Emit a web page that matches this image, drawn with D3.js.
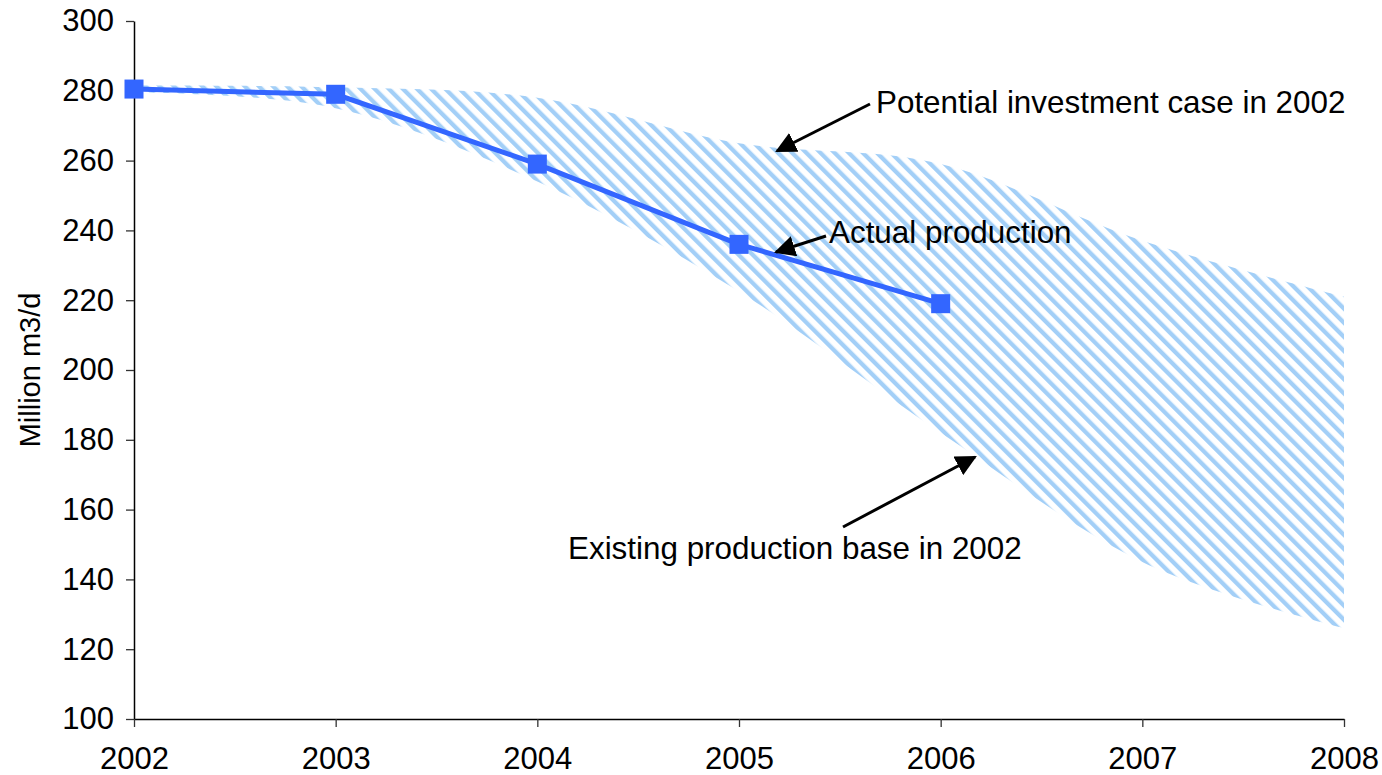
<!DOCTYPE html>
<html>
<head>
<meta charset="utf-8">
<script src="https://cdn.jsdelivr.net/npm/d3@7"></script>
<style>
  html, body { margin: 0; padding: 0; background: #fff; }
  svg { display: block; font-family: "Liberation Sans", Arial, sans-serif; }
</style>
</head>
<body>
<svg id="chart" width="1382" height="775"></svg>
<script>
// ---- data ----
const years = [2002, 2003, 2004, 2005, 2006, 2007, 2008];
const potentialCase = [281.5, 281, 278, 265, 259, 237, 221];
const existingBase = [279.5, 275, 254, 222.5, 182, 145, 126];
const actualYears = [2002, 2003, 2004, 2005, 2006];
const actualProduction = [280.5, 279, 259, 236, 219];
const yTicks = [100, 120, 140, 160, 180, 200, 220, 240, 260, 280, 300];
const yTitle = "Million m3/d";
const annotations = [
  { text: "Potential investment case in 2002", tx: 876, ty: 113, from: [870, 104], to: [777, 151] },
  { text: "Actual production", tx: 829, ty: 243, from: [826, 236], to: [776, 252] },
  { text: "Existing production base in 2002", tx: 568, ty: 559, from: [843, 527], to: [975, 457] }
];

// ---- chart ----
const svg = d3.select("#chart");
const x = d3.scaleLinear().domain([2002, 2008]).range([134, 1344]);
const y = d3.scaleLinear().domain([100, 300]).range([719, 21]);

const defs = svg.append("defs");
defs.append("pattern")
  .attr("id", "hatch")
  .attr("patternUnits", "userSpaceOnUse")
  .attr("width", 10).attr("height", 10)
  .attr("patternTransform", "rotate(-45)")
  .append("rect")
  .attr("x", 0).attr("y", 0).attr("width", 4.3).attr("height", 10)
  .attr("fill", "#a3cff7");

defs.append("marker")
  .attr("id", "arrow")
  .attr("viewBox", "0 0 10 10")
  .attr("refX", 9).attr("refY", 5)
  .attr("markerWidth", 7).attr("markerHeight", 7)
  .attr("markerUnits", "strokeWidth")
  .attr("orient", "auto")
  .append("path")
  .attr("d", "M0,0 L10,5 L0,10 Z")
  .attr("fill", "#000");

const band = years.map((yr, i) => ({ year: yr, hi: potentialCase[i], lo: existingBase[i] }));
const area = d3.area()
  .x(d => x(d.year))
  .y0(d => y(d.lo))
  .y1(d => y(d.hi))
  .curve(d3.curveCardinal.tension(0));

svg.append("path")
  .datum(band)
  .attr("d", area)
  .attr("fill", "url(#hatch)");

// axes
const yAxis = svg.append("g")
  .attr("transform", `translate(${x(2002)},0)`)
  .call(d3.axisLeft(y).tickValues(yTicks).tickSize(8).tickSizeOuter(0).tickPadding(12).tickFormat(d3.format("d")));
const xAxis = svg.append("g")
  .attr("transform", `translate(0,${y(100)})`)
  .call(d3.axisBottom(x).tickValues(years).tickSize(8).tickSizeOuter(0).tickPadding(20).tickFormat(d3.format("d")));

[yAxis, xAxis].forEach(g => {
  g.select(".domain").attr("stroke", "#000").attr("stroke-width", 1.5);
  g.selectAll(".tick line").attr("stroke", "#333").attr("stroke-width", 1.3);
  g.selectAll(".tick text").attr("fill", "#000").style("font-size", "31px").style("font-family", "Liberation Sans, Arial, sans-serif");
});

svg.append("text")
  .attr("transform", `translate(40,${(y(100) + y(300)) / 2}) rotate(-90)`)
  .attr("text-anchor", "middle")
  .style("font-size", "29px")
  .attr("fill", "#000")
  .text(yTitle);

// actual production line
const actual = actualYears.map((yr, i) => ({ year: yr, v: actualProduction[i] }));
svg.append("path")
  .datum(actual)
  .attr("d", d3.line().x(d => x(d.year)).y(d => y(d.v)))
  .attr("fill", "none")
  .attr("stroke", "#3366ff")
  .attr("stroke-width", 5);

svg.selectAll("rect.marker")
  .data(actual)
  .enter().append("rect")
  .attr("class", "marker")
  .attr("x", d => x(d.year) - 9.5)
  .attr("y", d => y(d.v) - 9.5)
  .attr("width", 19).attr("height", 19)
  .attr("fill", "#3366ff");

// annotations
const ann = svg.append("g");
annotations.forEach(a => {
  ann.append("line")
    .attr("x1", a.from[0]).attr("y1", a.from[1])
    .attr("x2", a.to[0]).attr("y2", a.to[1])
    .attr("stroke", "#000").attr("stroke-width", 3)
    .attr("marker-end", "url(#arrow)");
  ann.append("text")
    .attr("x", a.tx).attr("y", a.ty)
    .style("font-size", "31.4px")
    .attr("fill", "#000")
    .text(a.text);
});
</script>
</body>
</html>
